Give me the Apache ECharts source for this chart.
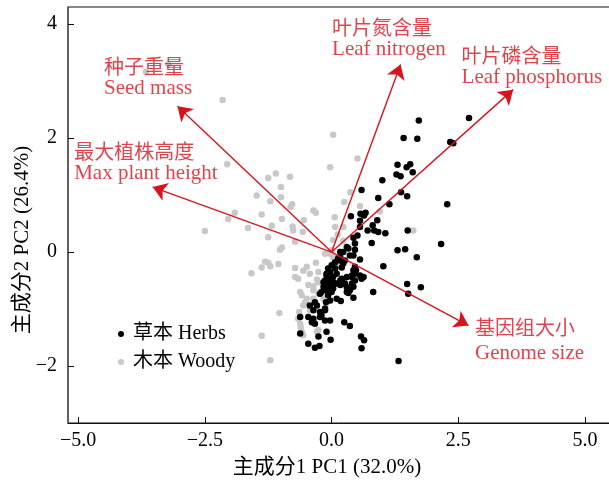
<!DOCTYPE html>
<html>
<head>
<meta charset="utf-8">
<script src="https://cdn.jsdelivr.net/npm/echarts@6/dist/echarts.min.js"></script>
<style>
  html, body { margin: 0; padding: 0; background: #fff; }
  #chart { width: 609px; height: 484px; }
</style>
</head>
<body>
<div id="chart"></div>
<script>
// Tick positions on each axis
const xTicks = [-5, -2.5, 0, 2.5, 5];
const yTicks = [-2, 0, 2, 4];

// PCA scores: herbaceous species [PC1, PC2]
const herbs = [
  [1.72, 2.31], [2.71, 2.35], [1.42, 2.00], [1.69, 1.99], [2.34, 1.93], [2.40, 1.91],
  [1.30, 1.53], [1.48, 1.49], [1.55, 1.54], [1.60, 1.40], [1.28, 1.36], [1.36, 1.33],
  [1.00, 1.26], [0.59, 1.09], [1.37, 1.05], [1.49, 0.98], [0.92, 0.95], [1.14, 0.84],
  [2.28, 0.84], [0.38, 0.63], [0.67, 0.69], [0.64, 0.64], [0.90, 0.56], [0.56, 0.55],
  [0.81, 0.47], [0.84, 0.38], [0.71, 0.38], [1.06, 0.33], [1.50, 0.38], [0.51, 0.29],
  [0.43, 0.25], [0.79, 0.16], [0.46, 0.15], [2.16, 0.14], [1.30, 0.03], [1.45, 0.05],
  [0.33, 0.06], [0.46, 0.04], [0.23, 0.00], [0.36, -0.06], [0.43, -0.06], [0.17, 0.00],
  [1.68, -0.09], [0.56, -0.13], [0.17, -0.15], [0.23, -0.20], [0.20, -0.27], [1.02, -0.25],
  [0.46, -0.26], [0.48, -0.32], [0.07, -0.29], [0.10, -0.38], [-0.03, -0.35], [0.03, -0.44],
  [-0.07, -0.47], [-0.13, -0.50], [0.30, -0.44], [0.40, -0.44], [0.56, -0.41], [0.59, -0.47],
  [0.63, -0.44], [0.17, -0.50], [0.23, -0.55], [0.10, -0.55], [0.46, -0.50], [0.40, -0.55],
  [-0.10, -0.55], [-0.03, -0.61], [-0.16, -0.61], [-0.10, -0.67], [0.00, -0.70], [0.03, -0.64],
  [0.36, -0.67], [0.30, -0.70], [0.43, -0.61], [1.49, -0.56], [1.76, -0.62], [1.51, -0.73],
  [0.82, -0.70], [0.43, -0.80], [0.10, -0.82], [0.18, -0.86], [-0.07, -0.76], [-0.11, -0.88],
  [-0.29, -0.94], [-0.36, -1.02], [-0.43, -0.94], [-0.23, -1.05], [-0.20, -1.11], [-0.46, -1.14],
  [-0.36, -1.17], [-0.33, -1.26], [-0.13, -1.20], [-0.03, -1.20], [0.25, -1.23], [0.36, -1.30],
  [-0.62, -1.43], [-0.26, -1.48], [-0.10, -1.40], [-0.02, -1.54], [0.58, -1.48], [0.64, -1.55],
  [0.59, -1.69], [-0.46, -1.61], [-0.33, -1.68], [-0.24, -1.65], [1.32, -1.91], [-0.62, -1.14],
  [-0.13, -0.99], [-0.03, -0.85], [-0.03, -0.50], [0.03, -0.58], [-0.07, -0.29], [-0.10, -0.41],
  [0.57, 0.67], [0.56, 0.44], [0.92, 0.35], [0.30, 0.09], [0.17, -0.09], [0.26, -0.15],
  [0.43, -0.32], [0.40, -0.41], [-0.10, -0.38], [-0.16, -0.53], [0.03, -0.53], [0.17, -0.58],
  [0.20, -0.47], [0.26, -0.55], [0.30, -0.62], [0.46, -0.38], [0.33, -0.72], [-0.23, -0.73],
  [-0.20, -0.70], [-0.33, -0.88], [-0.13, -1.02], [-0.23, -1.14], [-0.39, -1.23], [0.00, -0.23],
  [0.07, -0.18], [0.13, -0.11]
];

// PCA scores: woody species [PC1, PC2]
const woody = [
  [-3.66, 3.16], [-3.22, 3.29], [-2.15, 2.67], [0.03, 2.06], [-2.06, 1.54], [-0.03, 1.49],
  [-1.25, 1.30], [-1.10, 1.38], [-0.82, 1.32], [-1.00, 1.14], [-1.48, 0.99], [-1.21, 0.89],
  [-1.00, 0.96], [-0.78, 0.84], [-0.81, 0.79], [-0.36, 0.73], [-0.31, 0.69], [-1.91, 0.69],
  [-2.04, 0.58], [-1.38, 0.66], [-0.98, 0.58], [0.06, 0.61], [0.37, 1.05], [0.25, 0.88],
  [0.56, 0.81], [0.95, 0.71], [0.51, 1.64], [-1.65, 0.42], [-1.18, 0.46], [-0.77, 0.45],
  [-0.76, 0.38], [-0.55, 0.56], [-0.57, 0.35], [-2.50, 0.37], [-1.25, 0.26], [-0.72, 0.18],
  [-0.98, 0.08], [-1.02, 0.04], [0.07, 0.44], [0.12, 0.31], [0.23, 0.44], [0.03, 0.21],
  [0.23, 0.20], [0.00, 0.03], [-0.03, -0.03], [0.03, -0.09], [-0.13, -0.03], [-1.31, -0.17],
  [-1.25, -0.19], [-1.38, -0.27], [-1.21, -0.25], [-1.58, -0.37], [-1.05, -0.21], [-0.72, -0.28],
  [-0.49, -0.26], [-0.31, -0.19], [-0.72, -0.44], [-0.66, -0.47], [-0.43, -0.38], [-0.46, -0.58],
  [-0.29, -0.48], [-0.26, -0.53], [-0.62, -0.70], [-0.59, -0.76], [-0.36, -0.67], [-0.49, -0.82],
  [-0.52, -0.88], [-0.36, -0.82], [-0.64, -1.05], [-0.62, -1.26], [-0.61, -1.32], [-1.03, -1.07],
  [-1.38, -1.47], [-1.21, -1.90], [-0.16, -0.82], [1.61, 0.38], [-0.56, -0.33], [-0.26, -0.35],
  [0.03, -0.20], [0.13, -0.23], [0.20, -0.50], [0.26, -0.53], [-0.36, -0.60], [-0.26, -0.73],
  [-0.56, -0.94], [-0.29, -1.40], [-0.43, -1.02], [-0.66, -1.17], [-0.59, -1.40], [-0.26, -1.37],
  [-0.56, -1.46]
];

// Trait loadings (arrow tips) with bilingual names
const traitZh = ['种子重量', '最大植株高度', '叶片氮含量', '叶片磷含量', '基因组大小'];
const traitEn = ['Seed mass', 'Max plant height', 'Leaf nitrogen', 'Leaf phosphorus', 'Genome size'];
const loadings = [[-3.04, 2.56], [-3.53, 1.14], [1.36, 3.29], [3.58, 2.85], [2.70, -1.29]];

// Pixel offsets of each trait label from its arrow tip
const labelOffsets = [[-73, -50], [-78, -46], [-68, -48], [-51, -45], [7, -11]];
const labelLineHeights = [22, 22, 22, 22, 26];

const RED = '#d7141e';
const SERIF = '"Liberation Serif", "Times New Roman", "Noto Sans CJK SC", serif';
const CJK = '"Noto Sans CJK SC", "Liberation Serif", serif';

const fmtMinus = (v, digits) => {
  const s = Math.abs(v).toFixed(digits);
  return v < 0 ? '\u2212' + s : s;
};

const chart = echarts.init(document.getElementById('chart'), null, { renderer: 'canvas' });

chart.setOption({
  animation: false,
  backgroundColor: '#fff',
  // panel runs past the right edge of the canvas, so its right border is not drawn
  grid: {
    left: 68, top: 7, width: 546, height: 416,
    outerBoundsMode: 'none', containLabel: false,
    show: true, borderColor: '#111', borderWidth: 1
  },
  xAxis: {
    type: 'value', min: -5.2, max: 5.57,
    splitLine: { show: false },
    axisLine: { show: true, onZero: false, lineStyle: { color: '#111', width: 1 } },
    axisTick: { show: true, inside: true, length: 6, customValues: xTicks, lineStyle: { color: '#111' } },
    axisLabel: {
      customValues: xTicks, margin: 8,
      formatter: v => fmtMinus(v, 1),
      fontFamily: SERIF, fontSize: 20, color: '#000'
    }
  },
  yAxis: {
    type: 'value', min: -3, max: 4.3,
    splitLine: { show: false },
    axisLine: { show: true, onZero: false, lineStyle: { color: '#555', width: 1.5 } },
    axisTick: { show: true, inside: true, length: 6, customValues: yTicks, lineStyle: { color: '#111' } },
    axisLabel: {
      customValues: yTicks, margin: 11,
      formatter: v => fmtMinus(v, 0),
      fontFamily: SERIF, fontSize: 20, color: '#000'
    }
  },
  legend: {
    data: ['草本 Herbs', '木本 Woody'],
    orient: 'vertical', left: 113, top: 319,
    itemWidth: 14, itemHeight: 6, itemGap: 8,
    icon: 'circle',
    textStyle: { fontFamily: SERIF, fontSize: 20, lineHeight: 20, color: '#000' }
  },
  graphic: [
    {
      type: 'text', x: 327, y: 467,
      style: {
        text: '主成分1 PC1 (32.0%)', font: '21px ' + SERIF, fill: '#000',
        align: 'center', verticalAlign: 'middle'
      }
    },
    {
      type: 'text', x: 22, y: 240, rotation: Math.PI / 2,
      style: {
        text: '主成分2 PC2 (26.4%)', font: '21px ' + SERIF, fill: '#000',
        align: 'center', verticalAlign: 'middle'
      }
    }
  ],
  series: [
    {
      name: '木本 Woody', type: 'scatter', data: woody,
      symbol: 'circle', symbolSize: 6.5, z: 2,
      itemStyle: { color: '#c8c8c8', opacity: 1 }
    },
    {
      name: '草本 Herbs', type: 'scatter', data: herbs,
      symbol: 'circle', symbolSize: 6.5, z: 3,
      itemStyle: { color: '#000', opacity: 1 }
    },
    {
      type: 'lines', coordinateSystem: 'cartesian2d', z: 4,
      polyline: false,
      symbol: ['none', 'arrow'], symbolSize: [11, 14],
      lineStyle: { color: RED, width: 1.4, opacity: 1, curveness: 0 },
      itemStyle: { color: RED },
      data: loadings.map(p => ({ coords: [[0, 0], p] }))
    },
    {
      type: 'scatter', z: 5, silent: true,
      symbol: 'circle', symbolSize: 1,
      itemStyle: { color: 'rgba(0,0,0,0)' },
      data: loadings.map((p, i) => ({
        value: p,
        label: {
          show: true,
          position: labelOffsets[i],
          formatter: '{zh|' + traitZh[i] + '}\n{en|' + traitEn[i] + '}',
          rich: {
            zh: { fontFamily: CJK, fontSize: 20, lineHeight: labelLineHeights[i], color: RED },
            en: { fontFamily: SERIF, fontSize: 21, lineHeight: labelLineHeights[i], color: RED }
          }
        }
      }))
    }
  ]
});
</script>
</body>
</html>
